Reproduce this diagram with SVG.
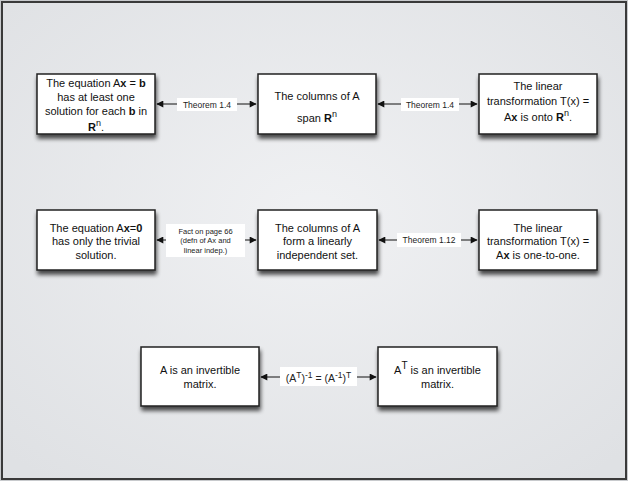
<svg xmlns="http://www.w3.org/2000/svg" width="628" height="481" viewBox="0 0 628 481">
<defs>
<radialGradient id="bg" cx="50%" cy="45%" r="70%">
<stop offset="0" stop-color="#f0f1f3"/>
<stop offset="1" stop-color="#dfe1e4"/>
</radialGradient>
<filter id="sh" x="-10%" y="-10%" width="125%" height="135%">
<feGaussianBlur in="SourceAlpha" stdDeviation="2.2"/>
<feOffset dx="1" dy="4" result="b"/>
<feComponentTransfer><feFuncA type="linear" slope="0.7"/></feComponentTransfer>
<feMerge><feMergeNode/><feMergeNode in="SourceGraphic"/></feMerge>
</filter>
<marker id="ah" viewBox="0 0 10 10" refX="9" refY="5" markerWidth="9" markerHeight="7" markerUnits="userSpaceOnUse" orient="auto-start-reverse">
<path d="M0,0 L10,5 L0,10 z" fill="#111"/>
</marker>
<style>
.box{fill:#fff;stroke:#222;stroke-width:1.5;filter:url(#sh)}
.t{font-family:"Liberation Sans",Arial,sans-serif;font-size:11px;fill:#111;text-anchor:middle}
.l{font-family:"Liberation Sans",Arial,sans-serif;font-size:8.5px;fill:#222;text-anchor:middle}
.s{font-family:"Liberation Sans",Arial,sans-serif;font-size:7.5px;fill:#222;text-anchor:middle}
.lbg{fill:#fff}
.c{stroke:#111;stroke-width:1;fill:none;marker-start:url(#ah);marker-end:url(#ah)}
.bd{font-weight:bold}
.sup{font-size:8.5px}
</style>
</defs>
<rect x="0" y="0" width="628" height="481" fill="#c8cacd"/>
<rect x="2" y="2" width="624" height="477" fill="url(#bg)" stroke="#3a3a3a" stroke-width="2"/>

<g id="connectors">
<line class="c" x1="157" y1="104" x2="256" y2="104"/>
<rect class="lbg" x="177" y="98" width="60" height="13"/>
<text class="l" x="207" y="107.5">Theorem 1.4</text>

<line class="c" x1="378" y1="104" x2="477" y2="104"/>
<rect class="lbg" x="401" y="98" width="58" height="13"/>
<text class="l" x="430" y="107.5">Theorem 1.4</text>

<line class="c" x1="157" y1="240" x2="256" y2="240"/>
<rect class="lbg" x="166" y="224" width="79" height="33"/>
<text class="s" x="205.5" y="233.5">Fact on page 66</text>
<text class="s" x="205.5" y="243">(defn of Ax and</text>
<text class="s" x="205.5" y="252.5">linear indep.)</text>

<line class="c" x1="379" y1="240" x2="477" y2="240"/>
<rect class="lbg" x="397" y="233" width="64" height="14"/>
<text class="l" x="429" y="243">Theorem 1.12</text>

<line class="c" x1="261" y1="377" x2="376" y2="377"/>
<rect class="lbg" x="280" y="367" width="77" height="19"/>
<text class="l" x="318.5" y="382" style="font-size:10.5px">(A<tspan class="sup" dy="-4.5">T</tspan><tspan dy="4.5">)</tspan><tspan class="sup" dy="-4.5">-1</tspan><tspan dy="4.5"> = (A</tspan><tspan class="sup" dy="-4.5">-1</tspan><tspan dy="4.5">)</tspan><tspan class="sup" dy="-4.5">T</tspan></text>
</g>

<g id="n1">
<rect class="box" x="37" y="74" width="118" height="60"/>
<text class="t" x="96" y="87">The equation A<tspan class="bd">x</tspan> = <tspan class="bd">b</tspan></text>
<text class="t" x="96" y="101">has at least one</text>
<text class="t" x="96" y="114.5">solution for each <tspan class="bd">b</tspan> in</text>
<text class="t" x="96" y="131"><tspan class="bd">R</tspan><tspan font-size="9" dy="-5">n</tspan><tspan dy="5">.</tspan></text>
</g>

<g id="n2">
<rect class="box" x="258" y="74" width="118" height="60"/>
<text class="t" x="317" y="100">The columns of A</text>
<text class="t" x="317" y="122">span <tspan class="bd">R</tspan><tspan font-size="9" dy="-5">n</tspan></text>
</g>

<g id="n3">
<rect class="box" x="479" y="74" width="118" height="60"/>
<text class="t" x="538" y="90">The linear</text>
<text class="t" x="538" y="105">transformation T(x) =</text>
<text class="t" x="538" y="121">A<tspan class="bd">x</tspan> is onto <tspan class="bd">R</tspan><tspan font-size="9" dy="-5">n</tspan><tspan dy="5">.</tspan></text>
</g>

<g id="n4">
<rect class="box" x="37" y="210" width="118" height="60"/>
<text class="t" x="96" y="232">The equation A<tspan class="bd">x</tspan>=<tspan class="bd">0</tspan></text>
<text class="t" x="96" y="245">has only the trivial</text>
<text class="t" x="96" y="258.5">solution.</text>
</g>

<g id="n5">
<rect class="box" x="258" y="210" width="119" height="60"/>
<text class="t" x="317.5" y="232">The columns of A</text>
<text class="t" x="317.5" y="245">form a linearly</text>
<text class="t" x="317.5" y="258.5">independent set.</text>
</g>

<g id="n6">
<rect class="box" x="479" y="210" width="118" height="60"/>
<text class="t" x="538" y="232">The linear</text>
<text class="t" x="538" y="245">transformation T(x) =</text>
<text class="t" x="538" y="258.5">A<tspan class="bd">x</tspan> is one-to-one.</text>
</g>

<g id="n7">
<rect class="box" x="141" y="347" width="118" height="59"/>
<text class="t" x="200" y="374">A is an invertible</text>
<text class="t" x="200" y="388">matrix.</text>
</g>

<g id="n8">
<rect class="box" x="378" y="347" width="119" height="59"/>
<text class="t" x="437.5" y="374">A<tspan font-size="10" dy="-5">T</tspan><tspan dy="5"> is an invertible</tspan></text>
<text class="t" x="437.5" y="388">matrix.</text>
</g>
</svg>
